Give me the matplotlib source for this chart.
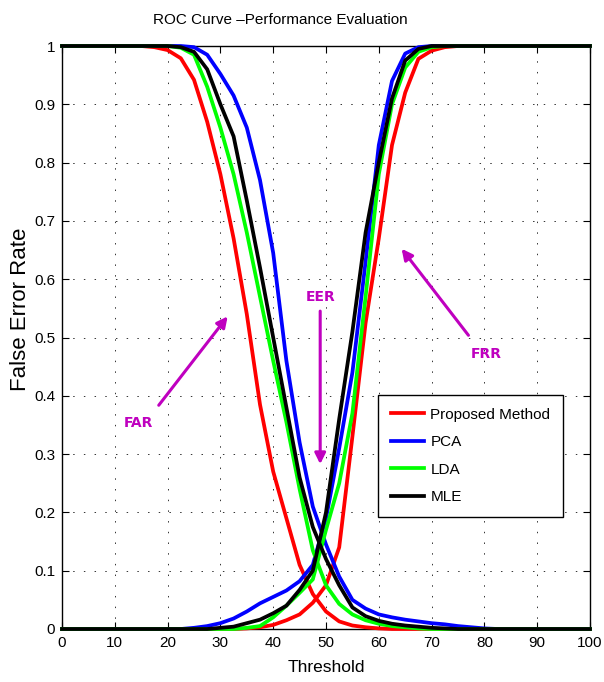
import numpy as np
from matplotlib import pyplot as plt

# threshold grid (sampled every 2.5)
threshold = [0, 2.5, 5, 7.5, 10, 12.5, 15, 17.5, 20, 22.5, 25, 27.5, 30, 32.5, 35, 37.5,
             40, 42.5, 45, 47.5, 50, 52.5, 55, 57.5, 60, 62.5, 65, 67.5, 70, 72.5, 75, 77.5,
             80, 82.5, 85, 87.5, 90, 92.5, 95, 97.5, 100]

far_proposed = [1, 1, 1, 1, 1, 1, 1, 0.998, 0.993, 0.979, 0.942, 0.87, 0.78, 0.67, 0.54, 0.385,
                0.27, 0.19, 0.11, 0.06, 0.03, 0.013, 0.006, 0.003, 0.001, 0, 0, 0, 0, 0, 0, 0,
                0, 0, 0, 0, 0, 0, 0, 0, 0]
far_pca = [1, 1, 1, 1, 1, 1, 1, 1, 1, 1, 0.998, 0.985, 0.952, 0.915, 0.86, 0.77,
           0.645, 0.46, 0.32, 0.21, 0.145, 0.09, 0.05, 0.035, 0.025, 0.02, 0.016, 0.013, 0.01, 0.008, 0.005, 0.003,
           0.001, 0, 0, 0, 0, 0, 0, 0, 0]
far_lda = [1, 1, 1, 1, 1, 1, 1, 1, 1, 0.997, 0.985, 0.93, 0.86, 0.78, 0.68, 0.57,
           0.46, 0.355, 0.24, 0.135, 0.075, 0.043, 0.025, 0.015, 0.009, 0.005, 0.003, 0.001, 0, 0, 0, 0,
           0, 0, 0, 0, 0, 0, 0, 0, 0]
far_mle = [1, 1, 1, 1, 1, 1, 1, 1, 1, 0.998, 0.99, 0.96, 0.90, 0.845, 0.735, 0.62,
           0.50, 0.38, 0.26, 0.175, 0.12, 0.075, 0.037, 0.022, 0.014, 0.009, 0.006, 0.004, 0.002, 0.001, 0, 0,
           0, 0, 0, 0, 0, 0, 0, 0, 0]

frr_proposed = [0, 0, 0, 0, 0, 0, 0, 0, 0, 0, 0, 0, 0, 0, 0.001, 0.003,
                0.007, 0.015, 0.025, 0.045, 0.075, 0.14, 0.33, 0.525, 0.67, 0.83, 0.92, 0.978, 0.992, 0.998, 1, 1,
                1, 1, 1, 1, 1, 1, 1, 1, 1]
frr_pca = [0, 0, 0, 0, 0, 0, 0, 0, 0, 0, 0.002, 0.005, 0.01, 0.018, 0.03, 0.044,
           0.055, 0.066, 0.082, 0.11, 0.19, 0.31, 0.44, 0.63, 0.83, 0.94, 0.987, 0.998, 1, 1, 1, 1,
           1, 1, 1, 1, 1, 1, 1, 1, 1]
frr_lda = [0, 0, 0, 0, 0, 0, 0, 0, 0, 0, 0, 0, 0, 0, 0.002, 0.005,
           0.02, 0.04, 0.062, 0.085, 0.17, 0.25, 0.37, 0.57, 0.78, 0.9, 0.963, 0.99, 0.998, 1, 1, 1,
           1, 1, 1, 1, 1, 1, 1, 1, 1]
frr_mle = [0, 0, 0, 0, 0, 0, 0, 0, 0, 0, 0, 0, 0.002, 0.004, 0.01, 0.016,
           0.027, 0.04, 0.067, 0.1, 0.2, 0.36, 0.51, 0.68, 0.80, 0.91, 0.975, 0.995, 1, 1, 1, 1,
           1, 1, 1, 1, 1, 1, 1, 1, 1]

methods = ['Proposed Method', 'PCA', 'LDA', 'MLE']
colors = ['#ff0000', '#0000ff', '#00ff00', '#000000']
far = [far_proposed, far_pca, far_lda, far_mle]
frr = [frr_proposed, frr_pca, frr_lda, frr_mle]

plt.rcParams['font.family'] = ['Liberation Sans', 'DejaVu Sans']
mag = '#bf00bf'

fig = plt.figure(figsize=(6.04, 6.82), dpi=100)
ax = fig.add_axes([62 / 604, 1 - 629 / 682, 528 / 604, 583 / 682])

for name, c, a, b in zip(methods, colors, far, frr):
  ax.plot(threshold, a, color=c, lw=2.7, label=name, clip_on=False, zorder=3)
  ax.plot(threshold, b, color=c, lw=2.7, clip_on=False, zorder=3)

ax.set_xlim(0, 100)
ax.set_ylim(0, 1)
ax.set_xticks(range(0, 101, 10))
ax.set_yticks([i / 10 for i in range(11)])
ax.set_yticklabels(['0', '0.1', '0.2', '0.3', '0.4', '0.5', '0.6', '0.7', '0.8', '0.9', '1'])
ax.tick_params(direction='in', top=True, right=True, labelsize=11, length=5, width=0.8, pad=5)
ax.grid(True, color='#333333', linestyle=(0, (1.5, 9.5)), lw=0.7)
for s in ax.spines.values():
  s.set_linewidth(1.0)

fig.text(280 / 604, 1 - 20 / 682, 'ROC Curve \u2013Performance Evaluation', fontsize=11,
         ha='center', va='center')
fig.text(326 / 604, 1 - 668 / 682, 'Threshold', fontsize=12.5, ha='center', va='center')
fig.text(21 / 604, 1 - 309 / 682, 'False Error Rate', fontsize=16,
         rotation=90, ha='center', va='center')

# annotations
arrow = dict(arrowstyle='-|>', color=mag, lw=2.2, mutation_scale=16)
ax.annotate('', xy=(31.7, 0.54), xytext=(18.0, 0.38), arrowprops=arrow)
ax.text(14.4, 0.353, 'FAR', color=mag, fontsize=10, fontweight='bold', family='DejaVu Sans',
        ha='center', va='center')
ax.annotate('', xy=(48.9, 0.278), xytext=(48.9, 0.55), arrowprops=arrow)
ax.text(48.9, 0.569, 'EER', color=mag, fontsize=10, fontweight='bold', family='DejaVu Sans',
        ha='center', va='center')
ax.annotate('', xy=(64.0, 0.656), xytext=(77.3, 0.50), arrowprops=arrow)
ax.text(80.3, 0.472, 'FRR', color=mag, fontsize=10, fontweight='bold', family='DejaVu Sans',
        ha='center', va='center')

leg = ax.legend(loc='lower left', bbox_to_anchor=(0.598, 0.192), borderaxespad=0, fontsize=11,
                handlelength=2.2, handletextpad=0.4, fancybox=False, edgecolor='k', framealpha=1,
                borderpad=0.85, labelspacing=0.88)
leg.get_frame().set_linewidth(1.0)

fig.savefig('out.png', dpi=100)
